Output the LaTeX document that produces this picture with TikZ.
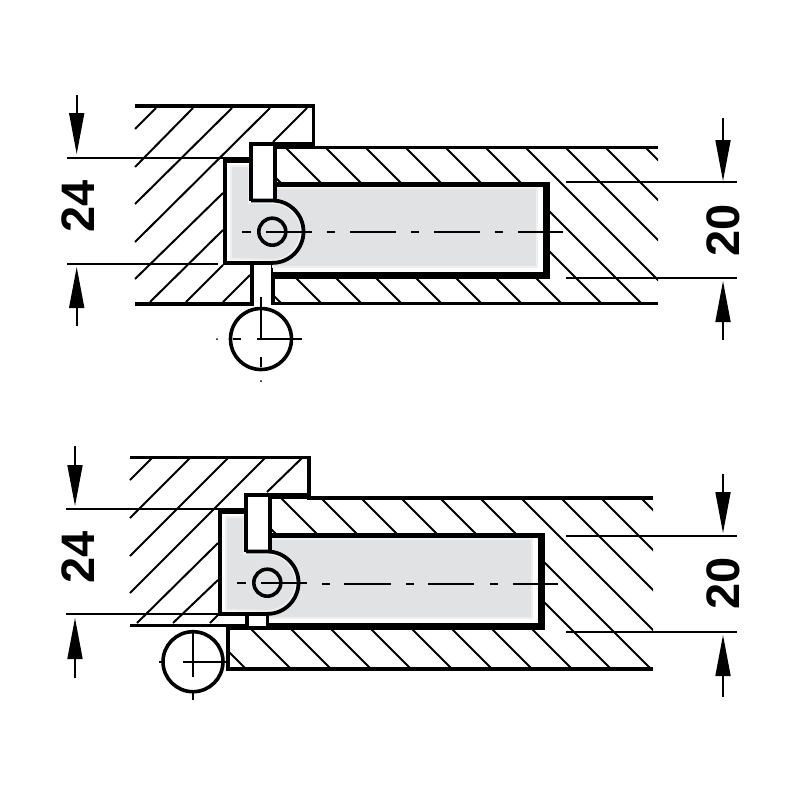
\documentclass[tikz,border=0pt]{standalone}
\usepackage{fontspec}
\setsansfont{Liberation Sans}
\usetikzlibrary{arrows.meta}
\definecolor{fillgray}{HTML}{E1E2E3}
\definecolor{softgray}{HTML}{EFEFF0}
\tikzset{
  x=1pt,y=-1pt,
  outline/.style={draw=black,line width=3.8pt,line join=miter},
  hatchline/.style={draw=black,line width=2pt},
  extline/.style={draw=black,line width=1.7pt},
  centre/.style={draw=black,line width=1.6pt},
  softfill/.style={fill=fillgray,draw=softgray,line width=2pt},
  dimarrow/.style={draw=black,line width=1.7pt,-{Triangle[length=41pt,width=15pt]}},
  dimtext/.style={font=\sffamily\bfseries\fontsize{47}{47}\selectfont,rotate=90,inner sep=0pt},
}
\newcommand{\hingebody}{%
  % rectangular housing
  \fill[white] (273,184.5) rectangle (546.7,275.3);
  \path[softfill] (273,187.5) rectangle (537,267);
  % body outline white then grey
  \fill[white] (225.3,159.7) -- (251,159.7) -- (251,200.5) -- (272.3,200.5)
     arc[start angle=90,end angle=-90,radius=31.5pt] -- (225.3,263) -- cycle;
  \path[softfill] (231,166) -- (249,166) -- (249,203) -- (272.3,203)
     arc[start angle=90,end angle=-90,radius=28.5pt] -- (231,259) -- cycle;
  \fill[white] (252,144) rectangle (273,200);
  % housing strokes
  \draw[black,line width=4.5pt] (273,184.5) -- (544,184.5);
  \draw[black,line width=7pt] (273,275.3) -- (550,275.3);
  \draw[black,line width=6.7pt] (546.7,182.3) -- (546.7,278.8);
  % body strokes
  \draw[black,line width=4pt,line join=miter] (251,200.5) -- (251,143.5) -- (274.8,143.5) -- (274.8,200.5);
  \draw[black,line width=6pt] (223.3,159.7) -- (251,159.7);
  \draw[black,line width=4pt] (225.3,157) -- (225.3,265);
  \draw[black,line width=3.8pt] (251,200.5) -- (272.3,200.5)
     arc[start angle=90,end angle=-90,radius=31.2pt] -- (223.3,263);
  \draw[black,line width=3.6pt] (272.3,231.7) circle[radius=13.5pt];
  % centre line
  \draw[centre] (242,232) -- (251,232) (266,232) -- (312,232);
}
\begin{document}
\begin{tikzpicture}
\useasboundingbox (0,0) rectangle (800,800);
\fill[white] (0,0) rectangle (800,800);

%% ===== TOP DRAWING =====
% right plate hatching
\begin{scope}
  \clip (273,147) rectangle (658,303);
  \foreach \c in {-22,18,...,498} {
    \draw[hatchline] ({\c+140},140) -- ({\c+310},310);
  }
\end{scope}
% left plate hatching
\foreach \xa/\ya/\xb/\yb in {
  135/129/156/108, 135/167/193/108, 135/204/232/108, 135/242/270/108,
  135/279/223/193, 273/142/307/108, 150/302/223/230, 186/302/223/265, 223/302/250/275} {
  \draw[hatchline] (\xa,\ya) -- (\xb,\yb);
}
% plate outlines
\draw[outline] (135,106) -- (313.5,106) -- (313.5,147.5) -- (658,147.5);
\draw[black,line width=6.5pt] (273,145.5) -- (313,145.5);
\draw[outline] (135,304) -- (252.3,304) -- (252.3,263);
\draw[outline] (273,263) -- (273,303.5) -- (658,303.5);
% hinge
\hingebody
\draw[centre] (327,232) -- (335,232) (350,232) -- (396,232) (411,232) -- (419,232)
  (434,232) -- (480,232) (495,232) -- (503,232) (518,232) -- (563,232);
% pin circle
\node[circle,draw=black,line width=3.6pt,minimum size=61pt,inner sep=0pt,fill=white] (pinA) at (261,339) {};
\draw[centre] (261,297) -- (261,340) (261,357) -- (261,367) (233,339) -- (241,339) (257,339) -- (302,339);
\fill (217,339) circle[radius=1pt] (261,381) circle[radius=1pt];
% dimensions
\draw[extline] (67,158) -- (225,158);
\draw[extline] (67,264) -- (218,264);
\draw[extline] (566,182) -- (737,182);
\draw[extline] (566,278) -- (737,278);
\coordinate (a1s) at (76.7,95);  \coordinate (a1t) at (76.7,154);
\coordinate (a2s) at (76.7,326); \coordinate (a2t) at (76.7,267);
\coordinate (a3s) at (723,118);  \coordinate (a3t) at (723,181);
\coordinate (a4s) at (723,340);  \coordinate (a4t) at (723,281);
\draw[dimarrow] (a1s) -- (a1t);
\draw[dimarrow] (a2s) -- (a2t);
\draw[dimarrow] (a3s) -- (a3t);
\draw[dimarrow] (a4s) -- (a4t);
\node[dimtext] (tA) at (78,206) {24};
\node[dimtext] (tB) at (723,230) {20};

%% ===== BOTTOM DRAWING =====
\begin{scope}
  \clip (268,498) -- (653,498) -- (653,669) -- (228,669) -- (228,627) -- (268,627) -- cycle;
  \foreach \c in {-423,-378,-338,-298,-258,-217,-177,-137,-97,-58,-18,23,63,103,143} {
    \draw[hatchline] ({\c+490},490) -- ({\c+680},680);
  }
\end{scope}
\foreach \xa/\ya/\xb/\yb in {
  130/480/152/458, 130/518/190/458, 130/556/228/458, 130/593/265/458,
  137/623/218/543, 267/492/302/458, 173/623/218/580, 210/623/218/615} {
  \draw[hatchline] (\xa,\ya) -- (\xb,\yb);
}
\draw[outline] (130,457.5) -- (309,457.5) -- (309,498) -- (653,498);
\draw[black,line width=6pt] (268,496) -- (309,496);
\draw[outline] (130,625.5) -- (247,625.5);
\draw[outline] (228,625.5) -- (228,669) -- (653,669);
\begin{scope}[shift={(-5,351)}]
  \hingebody
\end{scope}
\fill[white] (249,616.5) rectangle (266,626);
\draw[black,line width=3.6pt] (247,613) -- (247,628);
\draw[black,line width=3pt] (267.5,613) -- (267.5,628);
\draw[black,line width=3.6pt] (228,628) -- (270,628);
\draw[centre] (322,584) -- (330,584) (344,584) -- (391,584) (406,584) -- (414,584)
  (428,584) -- (474,584) (490,584) -- (498,584) (513,584) -- (558,584);
\node[circle,draw=black,line width=3.6pt,minimum size=60pt,inner sep=0pt,fill=white] (pinB) at (193,661.7) {};
\draw[centre] (193,631) -- (193,677) (193,692) -- (193,700) (159,661.7) -- (164,661.7) (183,661.7) -- (227,661.7);
% dimensions
\draw[extline] (66,509) -- (219,509);
\draw[extline] (66,614) -- (247,614);
\draw[extline] (566,536) -- (737,536);
\draw[extline] (566,632) -- (737,632);
\coordinate (b1s) at (75,446);  \coordinate (b1t) at (75,506);
\coordinate (b2s) at (75,678);  \coordinate (b2t) at (75,618);
\coordinate (b3s) at (723,474); \coordinate (b3t) at (723,533);
\coordinate (b4s) at (723,697); \coordinate (b4t) at (723,635);
\draw[dimarrow] (b1s) -- (b1t);
\draw[dimarrow] (b2s) -- (b2t);
\draw[dimarrow] (b3s) -- (b3t);
\draw[dimarrow] (b4s) -- (b4t);
\node[dimtext] (tC) at (78,557) {24};
\node[dimtext] (tD) at (723,583) {20};
\end{tikzpicture}
\end{document}
